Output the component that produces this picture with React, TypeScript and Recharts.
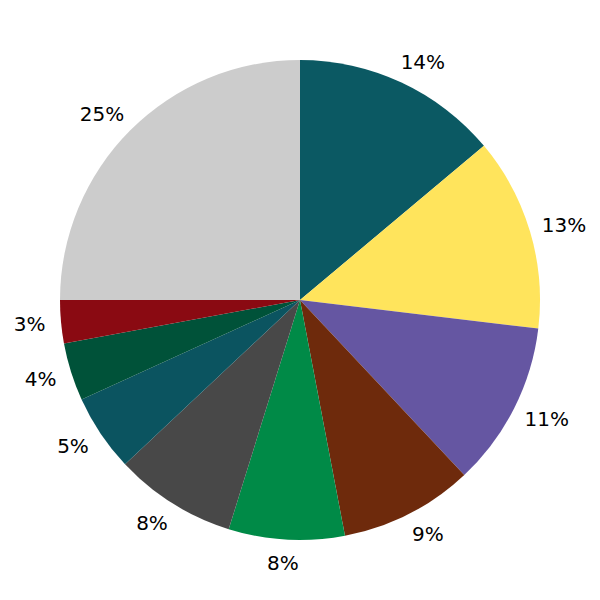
import { PieChart, Pie, Cell } from 'recharts'

const segments = ['A', 'B', 'C', 'D', 'E', 'F', 'G', 'H', 'I', 'J']
const shares = [13.9, 13.0, 11.1, 9.0, 7.8, 8.2, 5.2, 3.9, 2.9, 25.0]
const colors = ['#0b5963', '#ffe45c', '#6556a2', '#6e2a0c', '#008a47', '#484848', '#0b5460', '#005239', '#8a0a12', '#cccccc']

const data = segments.map((name, i) => ({ name, value: shares[i] }))

const RAD = Math.PI / 180

function renderLabel(props: any) {
  const { cx, cy, midAngle, percent } = props
  const text = Math.round(percent * 100) + '%'
  // approx DejaVu Sans 20px width: digits 12.7, percent 19
  const w = (text.length - 1) * 12.7 + 19
  const c = Math.cos(midAngle * RAD)
  const s = Math.sin(midAngle * RAD)
  const x = cx + 263 * c + 0.27 * w * Math.tanh(c * 5)
  const y = cy - 263 * s
  return (
    <text x={x} y={y} textAnchor="middle" dominantBaseline="central" fill="#000" fontSize={20} fontFamily="DejaVu Sans">
      {text}
    </text>
  )
}

export default function App() {
  return (
    <div style={{ position: 'absolute', left: 0, top: 0, width: 600, height: 600, background: '#fff' }}>
      <PieChart width={600} height={600} margin={{ top: 0, right: 0, bottom: 0, left: 0 }}>
        <Pie
          data={data}
          dataKey="value"
          cx={300}
          cy={300}
          outerRadius={240}
          startAngle={90}
          endAngle={-270}
          stroke="none"
          label={renderLabel}
          labelLine={false}
          isAnimationActive={false}
        >
          {data.map((d, i) => <Cell key={d.name} fill={colors[i]} />)}
        </Pie>
      </PieChart>
    </div>
  )
}
